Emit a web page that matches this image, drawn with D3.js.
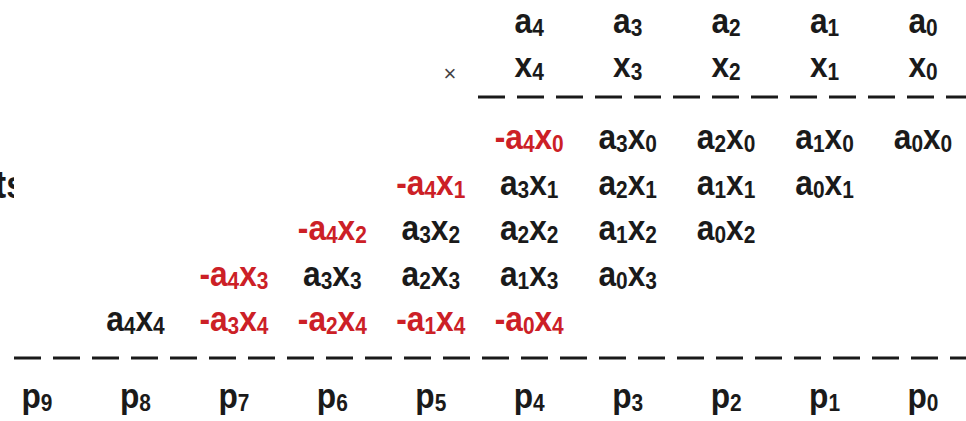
<!DOCTYPE html>
<html>
<head>
<meta charset="utf-8">
<script src="https://cdn.jsdelivr.net/npm/d3@7"></script>
<style>
  body { margin: 0; background: #fff; }
  svg { display: block; }
  text { font-family: "Liberation Sans", Arial, sans-serif; }
</style>
</head>
<body>
<svg id="chart" width="966" height="421"></svg>
<script>
// bit weights of the columns, left to right
var weights = [9, 8, 7, 6, 5, 4, 3, 2, 1, 0];

// operands (weights 4..0)
var multiplicand = ["a4", "a3", "a2", "a1", "a0"];
var multiplier = ["x4", "x3", "x2", "x1", "x0"];

// partial product rows, listed left to right, with weight of first term
var rowStart = [4, 5, 6, 7, 8];
var partialRows = [
  ["-a4x0", "a3x0", "a2x0", "a1x0", "a0x0"],
  ["-a4x1", "a3x1", "a2x1", "a1x1", "a0x1"],
  ["-a4x2", "a3x2", "a2x2", "a1x2", "a0x2"],
  ["-a4x3", "a3x3", "a2x3", "a1x3", "a0x3"],
  ["a4x4", "-a3x4", "-a2x4", "-a1x4", "-a0x4"]
];

// product bits
var product = ["p9", "p8", "p7", "p6", "p5", "p4", "p3", "p2", "p1", "p0"];

var red = "#cc2026", black = "#1a1a1a";
var fontSize = 36, squeeze = 0.88;

var svg = d3.select("#chart");

var x = d3.scaleLinear()
  .domain([9, 0])
  .range([37, 923]);

var y = d3.scaleLinear()
  .domain([0, 4])
  .range([149, 331]);

// writes "a4x0" as a, sub 4, x, sub 0
function term(sel, label, size) {
  var parts = label.match(/-|[a-z]|\d/g);
  var shift = 0;
  parts.forEach(function(p) {
    var t = sel.append("tspan");
    if (/\d/.test(p)) {
      t.attr("dy", 3 - shift).style("font-size", (size * 0.66) + "px");
      shift = 3;
    } else {
      t.attr("dy", -shift).style("font-size", size + "px");
      shift = 0;
    }
    t.text(p);
  });
}

function label(xp, yp, txt, color) {
  var t = svg.append("text")
    .attr("transform", "translate(" + xp + "," + yp + ") scale(" + squeeze + ",1)")
    .attr("text-anchor", "middle")
    .attr("fill", color)
    .style("font-weight", "bold");
  term(t, txt, fontSize);
  return t;
}

// header
multiplicand.forEach(function(d, i) {
  label(x(4 - i), 33, d, black);
});
multiplier.forEach(function(d, i) {
  label(x(4 - i), 77, d, black);
});

svg.append("text")
  .attr("x", 450)
  .attr("y", 81)
  .attr("text-anchor", "middle")
  .attr("fill", "#444")
  .style("font-size", "22px")
  .text("\u00d7");

// dashed rules
svg.append("line")
  .attr("x1", 478).attr("x2", 966)
  .attr("y1", 97).attr("y2", 97)
  .attr("stroke", black)
  .attr("stroke-width", 3)
  .attr("stroke-dasharray", "27,12");

svg.append("line")
  .attr("x1", 14).attr("x2", 966)
  .attr("y1", 358).attr("y2", 358)
  .attr("stroke", black)
  .attr("stroke-width", 3)
  .attr("stroke-dasharray", "27,12");

// partial products
partialRows.forEach(function(row, r) {
  row.forEach(function(d, j) {
    var neg = d.charAt(0) === "-";
    label(x(rowStart[r] - j), y(r), d, neg ? red : black);
  });
});

// product
product.forEach(function(d, i) {
  label(x(weights[i]), 408, d, black);
});

// text cut off at the left edge
svg.append("clipPath")
  .attr("id", "edge")
  .append("rect")
  .attr("x", 0).attr("y", 150)
  .attr("width", 14).attr("height", 60);

svg.append("g")
  .attr("clip-path", "url(#edge)")
  .append("text")
  .attr("transform", "translate(-5,198) scale(" + squeeze + ",1)")
  .attr("fill", black)
  .style("font-size", "38px")
  .style("font-weight", "bold")
  .text("ts");
</script>
</body>
</html>
